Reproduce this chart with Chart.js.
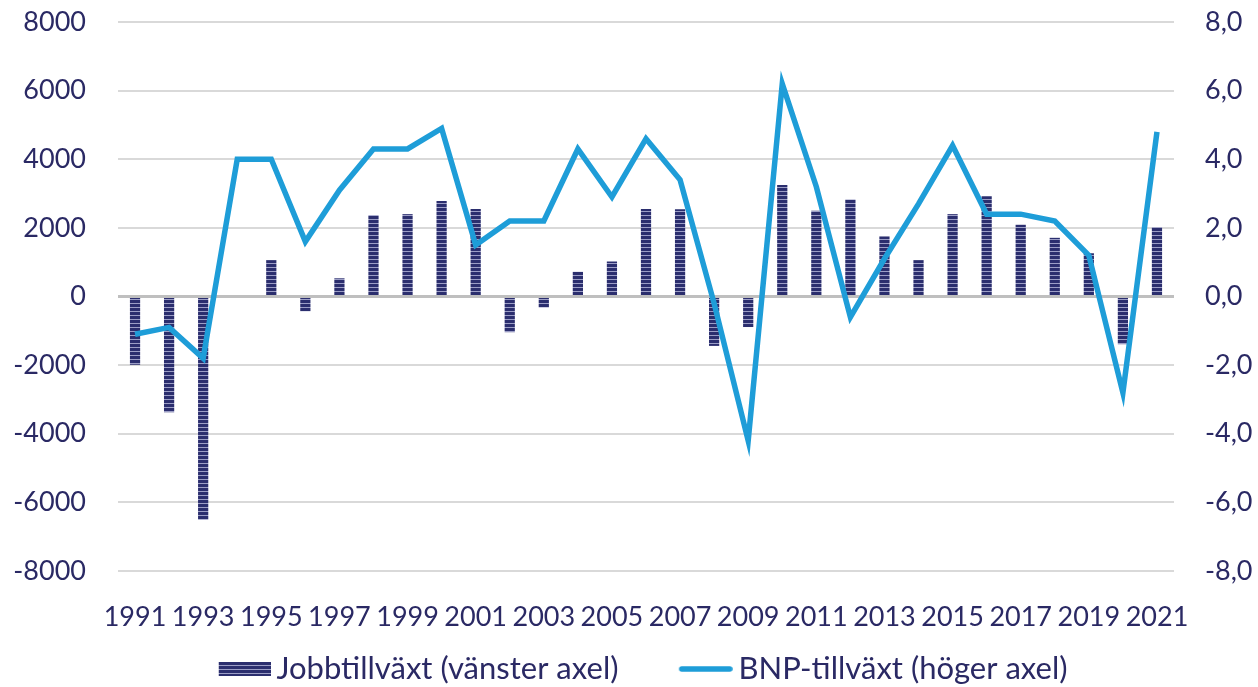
<!DOCTYPE html>
<html><head><meta charset="utf-8">
<script src="https://cdn.jsdelivr.net/npm/chart.js@4.4.0/dist/chart.umd.min.js"></script>
<style>html,body{margin:0;padding:0;background:#fff;}#wrap{width:1258px;height:687px;}</style>
</head><body><div id="wrap"><canvas id="c" width="1258" height="687"></canvas></div>
<script>
const years = ['1991','1992','1993','1994','1995','1996','1997','1998','1999','2000','2001','2002','2003','2004','2005','2006','2007','2008','2009','2010','2011','2012','2013','2014','2015','2016','2017','2018','2019','2020','2021'];
const jobGrowth = [-1990,-3370,-6510,0,1060,-430,530,2370,2400,2780,2550,-1040,-320,720,1020,2550,2540,-1440,-890,3250,2500,2830,1750,1060,2400,2920,2090,1710,1260,-1390,2020];
const gdpGrowth = [-1.1,-0.9,-1.8,4.0,4.0,1.6,3.1,4.3,4.3,4.9,1.5,2.2,2.2,4.3,2.9,4.6,3.4,-0.2,-4.2,6.2,3.2,-0.6,1.1,2.7,4.4,2.4,2.4,2.2,1.2,-2.8,4.8];
const leftTicks = [-8000,-6000,-4000,-2000,0,2000,4000,6000,8000];
const rightTicks = [-8,-6,-4,-2,0,2,4,6,8];
const labelJobs = 'Jobbtillväxt (vänster axel)';
const labelGdp = 'BNP-tillväxt (höger axel)';

const NAVY = '#2a2964';
const BAR_DARK = '#2b2e6e';
const BAR_LIGHT = '#9c9ec6';
const LINE = '#1e9dd8';
const FONT = {family: 'Lato', size: 27};
const LEG_FONT = {family: 'Lato', size: 31};

const canvas = document.getElementById('c');
const mainCtx = canvas.getContext('2d');
function makeStripeTile(){
  const t = document.createElement('canvas'); t.width = 4; t.height = 4;
  const g = t.getContext('2d');
  g.fillStyle = BAR_DARK; g.fillRect(0,0,4,4);
  g.fillStyle = BAR_LIGHT; g.fillRect(0,3,4,1);
  return t;
}
const tile = makeStripeTile();
const stripe = mainCtx.createPattern(tile, 'repeat');

// legend symbols
const LEG_PAD = 0;
const halfF = LEG_FONT.size/2;
const LW = 104.5;             // pointStyleWidth
const IMG_W = Math.round(LW + 2*halfF - 12);
function barSymbol(){
  const c = document.createElement('canvas'); c.width = IMG_W; c.height = 14;
  const g = c.getContext('2d');
  g.fillStyle = g.createPattern(tile,'repeat');
  g.fillRect(IMG_W-52, 0, 52, 14);
  return c;
}
function lineSymbol(){
  const c = document.createElement('canvas'); c.width = IMG_W; c.height = 14;
  const g = c.getContext('2d');
  g.strokeStyle = LINE; g.lineWidth = 5.5; g.lineCap = 'round';
  g.beginPath(); g.moveTo(IMG_W-54+3, 7); g.lineTo(IMG_W-3, 7); g.stroke();
  return c;
}
const symBar = barSymbol();
const symLine = lineSymbol();

const LEFT_EDGE = 118, RIGHT_EDGE = 1174, TOP_EDGE = 22, BOTTOM_EDGE = 571;
const PAD = {left: 0, right: 0, top: TOP_EDGE, bottom: 0};
const LEG_H = LEG_FONT.size + LEG_PAD + 10;
const LEG_CENTER_Y = 669;
const LEG_DX = -17;

const legendPlace = {
  id: 'legendPlace',
  afterLayout(chart){
    const lg = chart.legend; if (!lg) return;
    const h = lg.height;
    lg.top = LEG_CENTER_Y - LEG_PAD - halfF; lg.bottom = lg.top + h;
    lg.left += LEG_DX; lg.right += LEG_DX;
  }
};

new Chart(canvas, {
  data: {
    labels: years,
    datasets: [
      {type: 'line', label: labelGdp, data: gdpGrowth, yAxisID: 'y1', borderColor: LINE, backgroundColor: LINE,
       borderWidth: 5.5, pointRadius: 0, tension: 0, order: 0, borderJoinStyle: 'miter'},
      {type: 'bar', label: labelJobs, data: jobGrowth, yAxisID: 'y', backgroundColor: stripe,
       borderWidth: 0, barPercentage: 0.75, categoryPercentage: 0.4, order: 1}
    ]
  },
  plugins: [legendPlace],
  options: {
    responsive: false, animation: false, devicePixelRatio: 1,
    layout: {padding: PAD},
    plugins: {
      tooltip: {enabled: false},
      legend: {
        position: 'bottom',
        labels: {
          usePointStyle: true, pointStyleWidth: LW, boxHeight: 14, padding: LEG_PAD,
          color: NAVY, font: LEG_FONT,
          generateLabels: () => [
            {text: labelJobs, pointStyle: symBar, fillStyle: BAR_DARK, strokeStyle: BAR_DARK, lineWidth: 0, datasetIndex: 1, hidden: false, fontColor: NAVY},
            {text: labelGdp, pointStyle: symLine, fillStyle: LINE, strokeStyle: LINE, lineWidth: 0, datasetIndex: 0, hidden: false, fontColor: NAVY}
          ]
        }
      }
    },
    scales: {
      x: {
        grid: {display: false}, border: {display: false},
        ticks: {color: NAVY, font: FONT, autoSkip: false, maxRotation: 0, minRotation: 0, padding: 22,
          callback: (v, i) => (i % 2 === 0 ? years[i] : '')},
        afterFit: s => { s.height = 687 - PAD.bottom - BOTTOM_EDGE - LEG_H; }
      },
      y: {
        position: 'left', min: leftTicks[0], max: leftTicks[leftTicks.length-1],
        afterBuildTicks: s => { s.ticks = leftTicks.map(v => ({value: v})); },
        grid: {drawTicks: true, tickLength: 32, tickColor: 'rgba(0,0,0,0)',
               color: c => (c.tick && c.tick.value === 0 ? '#bfbfbf' : '#d9d9d9'),
               lineWidth: c => (c.tick && c.tick.value === 0 ? 3 : 2)},
        border: {display: false},
        ticks: {color: NAVY, font: FONT, padding: 0, callback: v => String(v)},
        afterFit: s => { s.width = LEFT_EDGE - PAD.left; }
      },
      y1: {
        position: 'right', min: rightTicks[0], max: rightTicks[rightTicks.length-1],
        afterBuildTicks: s => { s.ticks = rightTicks.map(v => ({value: v})); },
        grid: {display: false, drawTicks: true, tickLength: 31}, border: {display: false},
        ticks: {color: NAVY, font: FONT, padding: 0,
          callback: v => v.toFixed(1).replace('.', ',')},
        afterFit: s => { s.width = 1258 - RIGHT_EDGE - PAD.right; }
      }
    }
  }
});
</script></body></html>
